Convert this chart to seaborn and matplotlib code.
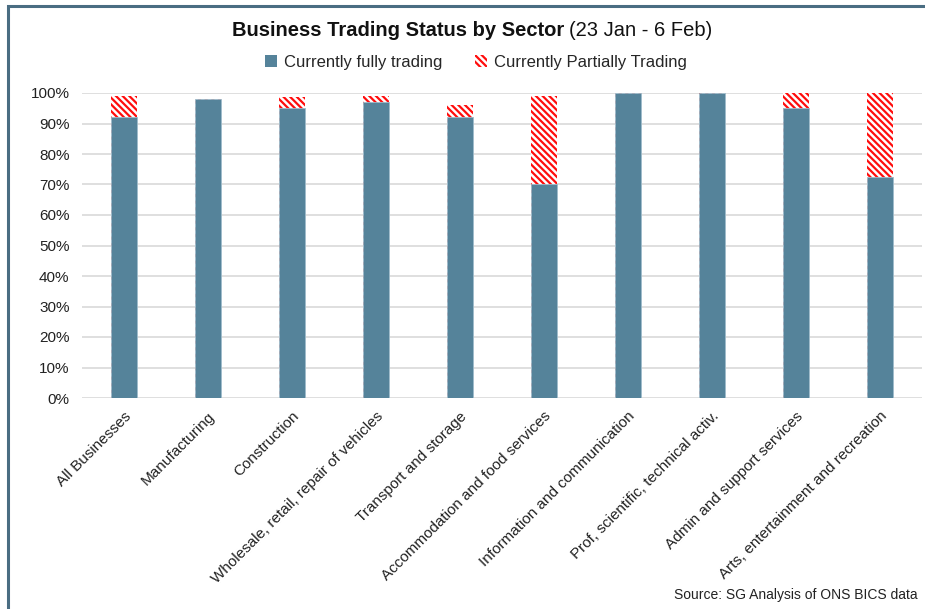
import numpy as np
import pandas as pd
import matplotlib
matplotlib.use("Agg")
import matplotlib.pyplot as plt
import seaborn as sns
from matplotlib.patches import Patch, Rectangle
from matplotlib.ticker import PercentFormatter

# data (percent of businesses)
sectors = ['All Businesses', 'Manufacturing', 'Construction',
           'Wholesale, retail, repair of vehicles', 'Transport and storage',
           'Accommodation and food services', 'Information and communication',
           'Prof, scientific, technical activ.', 'Admin and support services',
           'Arts, entertainment and recreation']
fully = [92, 98, 95, 97, 92, 70, 100, 100, 95, 72.5]
partially = [7, 0, 3.7, 2, 4, 29, 0, 0, 5, 27.5]

df = pd.DataFrame({'sector': sectors, 'fully': fully, 'partially': partially})
df['total'] = df['fully'] + df['partially']

sns.set_theme(style='white')
plt.rcParams['font.family'] = ['Liberation Sans', 'DejaVu Sans']
plt.rcParams['hatch.linewidth'] = 1.6

teal = '#55839a'
stripe = '\\\\\\\\\\'

fig = plt.figure(figsize=(9.25, 6.09), dpi=100)
ax = fig.add_axes([82/925, 211/609, 840/925, 305/609])

# hatched "partially" bars sit behind the solid "fully" bars
sns.barplot(data=df, x='sector', y='total', ax=ax, color='white',
            edgecolor='#ff0d0d', hatch=stripe, linewidth=0, width=0.32,
            saturation=1, zorder=2)
sns.barplot(data=df, x='sector', y='fully', ax=ax, color=teal,
            edgecolor='#9fbccb', linewidth=0.6, width=0.32,
            saturation=1, zorder=3)

ax.set_ylim(0, 100)
ax.set_xlim(-0.5, len(sectors) - 0.5)
ax.set_yticks(np.arange(0, 101, 10))
ax.yaxis.set_major_formatter(PercentFormatter(decimals=0))
ax.grid(axis='y', color='#d9d9d9', linewidth=1.2, zorder=0)
ax.set_axisbelow(True)
for s in ax.spines.values():
    s.set_visible(False)
ax.set_xlabel('')
ax.set_ylabel('')
ax.tick_params(axis='y', length=0, pad=9, labelsize=11, colors='#222222')
ax.tick_params(axis='x', length=0, pad=8, labelsize=11, colors='#222222')
plt.setp(ax.get_xticklabels(), rotation=45, ha='right', rotation_mode='anchor')

# title: bold part + normal part
fig.text(564/925, 1 - 30/609, 'Business Trading Status by Sector',
         ha='right', va='center', fontsize=14.5, fontweight='bold', color='#111111')
fig.text(569/925, 1 - 30/609, '(23 Jan - 6 Feb)',
         ha='left', va='center', fontsize=14.5, color='#111111')

handles = [Patch(facecolor=teal, edgecolor='none', label='Currently fully trading'),
           Patch(facecolor='white', edgecolor='#ff0d0d', hatch=stripe, linewidth=0,
                 label='Currently Partially Trading')]
fig.legend(handles=handles, loc='center', bbox_to_anchor=(476/925, 1 - 62/609),
           ncol=2, frameon=False, fontsize=12, handlelength=0.7, handleheight=0.7,
           handletextpad=0.4, columnspacing=2.0)

fig.text(918/925, 1 - 595/609, 'Source: SG Analysis of ONS BICS data',
         ha='right', va='center', fontsize=10, color='#222222')

# frame around the chart (left and top edges visible in the reference)
fig.patches.append(Rectangle((8/925, -0.05), 1.2, 1 - 6/609 + 0.05,
                             transform=fig.transFigure, fill=False,
                             edgecolor='#4a6d82', linewidth=2.2))

fig.savefig('out.png', dpi=100)
